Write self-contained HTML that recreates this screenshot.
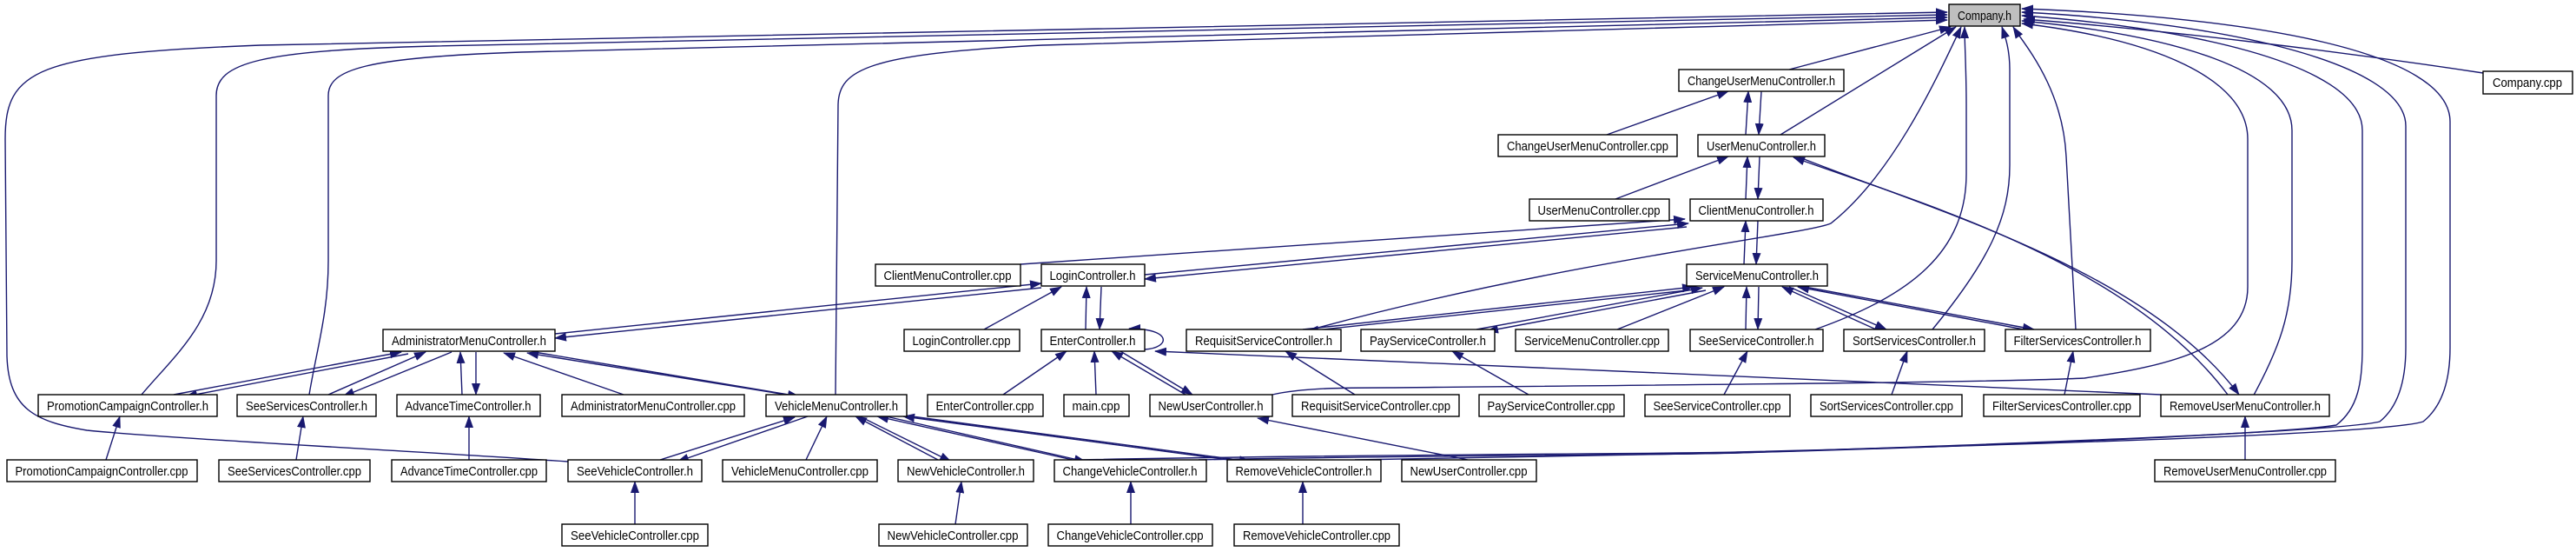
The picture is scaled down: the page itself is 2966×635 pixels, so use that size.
<!DOCTYPE html>
<html><head><meta charset="utf-8"><style>
html,body{margin:0;padding:0;background:#fff;}
svg{display:block;}
text{font-family:"Liberation Sans",sans-serif;font-size:15px;fill:#000;}
.n{fill:#fff;stroke:#000;stroke-width:1.4;}
.e{fill:none;stroke:#191970;stroke-width:1.4;}
</style></head><body>
<svg id="g" width="2966" height="635" viewBox="0 0 2966 635" xmlns="http://www.w3.org/2000/svg">
<defs><marker id="a" markerUnits="userSpaceOnUse" markerWidth="14" markerHeight="10" refX="13" refY="5" orient="auto"><path d="M0,0 L14,5 L0,10 z" fill="#191970"/></marker></defs>
<g id="edges"></g>
<g id="nodes">
<rect x="2244" y="5" width="82" height="25" fill="#bfbfbf" stroke="#000" stroke-width="1.4"/><text x="2285" y="23" text-anchor="middle" textLength="62" lengthAdjust="spacingAndGlyphs">Company.h</text>
<rect class="n" x="2859" y="82" width="103" height="26"/><text x="2910" y="100" text-anchor="middle" textLength="80" lengthAdjust="spacingAndGlyphs">Company.cpp</text>
<rect class="n" x="1933" y="80" width="190" height="25"/><text x="2028" y="98" text-anchor="middle" textLength="170" lengthAdjust="spacingAndGlyphs">ChangeUserMenuController.h</text>
<rect class="n" x="1725" y="155" width="206" height="25"/><text x="1828" y="173" text-anchor="middle" textLength="186" lengthAdjust="spacingAndGlyphs">ChangeUserMenuController.cpp</text>
<rect class="n" x="1955" y="155" width="146" height="25"/><text x="2028" y="173" text-anchor="middle" textLength="126" lengthAdjust="spacingAndGlyphs">UserMenuController.h</text>
<rect class="n" x="1761" y="229" width="161" height="25"/><text x="1841" y="247" text-anchor="middle" textLength="141" lengthAdjust="spacingAndGlyphs">UserMenuController.cpp</text>
<rect class="n" x="1946" y="229" width="153" height="25"/><text x="2022" y="247" text-anchor="middle" textLength="133" lengthAdjust="spacingAndGlyphs">ClientMenuController.h</text>
<rect class="n" x="1942" y="304" width="162" height="25"/><text x="2023" y="322" text-anchor="middle" textLength="142" lengthAdjust="spacingAndGlyphs">ServiceMenuController.h</text>
<rect class="n" x="1008" y="304" width="167" height="25"/><text x="1091" y="322" text-anchor="middle" textLength="147" lengthAdjust="spacingAndGlyphs">ClientMenuController.cpp</text>
<rect class="n" x="1199" y="304" width="119" height="25"/><text x="1258" y="322" text-anchor="middle" textLength="99" lengthAdjust="spacingAndGlyphs">LoginController.h</text>
<rect class="n" x="441" y="379" width="198" height="25"/><text x="540" y="397" text-anchor="middle" textLength="178" lengthAdjust="spacingAndGlyphs">AdministratorMenuController.h</text>
<rect class="n" x="1041" y="379" width="133" height="25"/><text x="1107" y="397" text-anchor="middle" textLength="113" lengthAdjust="spacingAndGlyphs">LoginController.cpp</text>
<rect class="n" x="1199" y="379" width="119" height="25"/><text x="1258" y="397" text-anchor="middle" textLength="99" lengthAdjust="spacingAndGlyphs">EnterController.h</text>
<rect class="n" x="1366" y="379" width="178" height="25"/><text x="1455" y="397" text-anchor="middle" textLength="158" lengthAdjust="spacingAndGlyphs">RequisitServiceController.h</text>
<rect class="n" x="1567" y="379" width="154" height="25"/><text x="1644" y="397" text-anchor="middle" textLength="134" lengthAdjust="spacingAndGlyphs">PayServiceController.h</text>
<rect class="n" x="1745" y="379" width="176" height="25"/><text x="1833" y="397" text-anchor="middle" textLength="156" lengthAdjust="spacingAndGlyphs">ServiceMenuController.cpp</text>
<rect class="n" x="1946" y="379" width="153" height="25"/><text x="2022" y="397" text-anchor="middle" textLength="133" lengthAdjust="spacingAndGlyphs">SeeServiceController.h</text>
<rect class="n" x="2123" y="379" width="162" height="25"/><text x="2204" y="397" text-anchor="middle" textLength="142" lengthAdjust="spacingAndGlyphs">SortServicesController.h</text>
<rect class="n" x="2309" y="379" width="167" height="25"/><text x="2392" y="397" text-anchor="middle" textLength="147" lengthAdjust="spacingAndGlyphs">FilterServicesController.h</text>
<rect class="n" x="44" y="454" width="206" height="25"/><text x="147" y="472" text-anchor="middle" textLength="186" lengthAdjust="spacingAndGlyphs">PromotionCampaignController.h</text>
<rect class="n" x="273" y="454" width="160" height="25"/><text x="353" y="472" text-anchor="middle" textLength="140" lengthAdjust="spacingAndGlyphs">SeeServicesController.h</text>
<rect class="n" x="457" y="454" width="165" height="25"/><text x="539" y="472" text-anchor="middle" textLength="145" lengthAdjust="spacingAndGlyphs">AdvanceTimeController.h</text>
<rect class="n" x="647" y="454" width="210" height="25"/><text x="752" y="472" text-anchor="middle" textLength="190" lengthAdjust="spacingAndGlyphs">AdministratorMenuController.cpp</text>
<rect class="n" x="882" y="454" width="162" height="25"/><text x="963" y="472" text-anchor="middle" textLength="142" lengthAdjust="spacingAndGlyphs">VehicleMenuController.h</text>
<rect class="n" x="1068" y="454" width="133" height="25"/><text x="1134" y="472" text-anchor="middle" textLength="113" lengthAdjust="spacingAndGlyphs">EnterController.cpp</text>
<rect class="n" x="1225" y="454" width="75" height="25"/><text x="1262" y="472" text-anchor="middle" textLength="55" lengthAdjust="spacingAndGlyphs">main.cpp</text>
<rect class="n" x="1324" y="454" width="141" height="25"/><text x="1394" y="472" text-anchor="middle" textLength="121" lengthAdjust="spacingAndGlyphs">NewUserController.h</text>
<rect class="n" x="1488" y="454" width="192" height="25"/><text x="1584" y="472" text-anchor="middle" textLength="172" lengthAdjust="spacingAndGlyphs">RequisitServiceController.cpp</text>
<rect class="n" x="1703" y="454" width="167" height="25"/><text x="1786" y="472" text-anchor="middle" textLength="147" lengthAdjust="spacingAndGlyphs">PayServiceController.cpp</text>
<rect class="n" x="1894" y="454" width="167" height="25"/><text x="1977" y="472" text-anchor="middle" textLength="147" lengthAdjust="spacingAndGlyphs">SeeServiceController.cpp</text>
<rect class="n" x="2085" y="454" width="174" height="25"/><text x="2172" y="472" text-anchor="middle" textLength="154" lengthAdjust="spacingAndGlyphs">SortServicesController.cpp</text>
<rect class="n" x="2284" y="454" width="180" height="25"/><text x="2374" y="472" text-anchor="middle" textLength="160" lengthAdjust="spacingAndGlyphs">FilterServicesController.cpp</text>
<rect class="n" x="2488" y="454" width="194" height="25"/><text x="2585" y="472" text-anchor="middle" textLength="174" lengthAdjust="spacingAndGlyphs">RemoveUserMenuController.h</text>
<rect class="n" x="8" y="529" width="219" height="25"/><text x="117" y="547" text-anchor="middle" textLength="199" lengthAdjust="spacingAndGlyphs">PromotionCampaignController.cpp</text>
<rect class="n" x="252" y="529" width="174" height="25"/><text x="339" y="547" text-anchor="middle" textLength="154" lengthAdjust="spacingAndGlyphs">SeeServicesController.cpp</text>
<rect class="n" x="451" y="529" width="178" height="25"/><text x="540" y="547" text-anchor="middle" textLength="158" lengthAdjust="spacingAndGlyphs">AdvanceTimeController.cpp</text>
<rect class="n" x="654" y="529" width="154" height="25"/><text x="731" y="547" text-anchor="middle" textLength="134" lengthAdjust="spacingAndGlyphs">SeeVehicleController.h</text>
<rect class="n" x="832" y="529" width="178" height="25"/><text x="921" y="547" text-anchor="middle" textLength="158" lengthAdjust="spacingAndGlyphs">VehicleMenuController.cpp</text>
<rect class="n" x="1034" y="529" width="156" height="25"/><text x="1112" y="547" text-anchor="middle" textLength="136" lengthAdjust="spacingAndGlyphs">NewVehicleController.h</text>
<rect class="n" x="1214" y="529" width="175" height="25"/><text x="1301" y="547" text-anchor="middle" textLength="155" lengthAdjust="spacingAndGlyphs">ChangeVehicleController.h</text>
<rect class="n" x="1413" y="529" width="177" height="25"/><text x="1501" y="547" text-anchor="middle" textLength="157" lengthAdjust="spacingAndGlyphs">RemoveVehicleController.h</text>
<rect class="n" x="1614" y="529" width="155" height="25"/><text x="1691" y="547" text-anchor="middle" textLength="135" lengthAdjust="spacingAndGlyphs">NewUserController.cpp</text>
<rect class="n" x="2481" y="529" width="208" height="25"/><text x="2585" y="547" text-anchor="middle" textLength="188" lengthAdjust="spacingAndGlyphs">RemoveUserMenuController.cpp</text>
<rect class="n" x="647" y="603" width="168" height="25"/><text x="731" y="621" text-anchor="middle" textLength="148" lengthAdjust="spacingAndGlyphs">SeeVehicleController.cpp</text>
<rect class="n" x="1012" y="603" width="171" height="25"/><text x="1097" y="621" text-anchor="middle" textLength="151" lengthAdjust="spacingAndGlyphs">NewVehicleController.cpp</text>
<rect class="n" x="1207" y="603" width="189" height="25"/><text x="1301" y="621" text-anchor="middle" textLength="169" lengthAdjust="spacingAndGlyphs">ChangeVehicleController.cpp</text>
<rect class="n" x="1421" y="603" width="190" height="25"/><text x="1516" y="621" text-anchor="middle" textLength="170" lengthAdjust="spacingAndGlyphs">RemoveVehicleController.cpp</text>
</g>
</svg>
<script>
var P=[
"M2859,84 C2700,60 2500,35 2330,22",
"M2060,80 L2246,31",
"M2050,155 L2252,31",
"M1510,379 C1800,300 2080,270 2108,257 C2180,200 2230,90 2258,31",
"M2090,379 C2200,340 2264,290 2264,200 L2264,120 C2264,80 2262,50 2262,31",
"M2225,379 C2290,300 2314,250 2314,190 L2314,80 C2314,55 2308,40 2305,31",
"M2390,379 L2379,180 C2375,100 2330,50 2318,31",
"M2592,460 C2625,400 2639,360 2639,300 L2639,150 C2639,80 2500,40 2328,24",
"M1465,454 C1500,446 1550,446 1600,446 C1900,443 2300,440 2400,435 C2500,420 2588,400 2588,330 L2588,160 C2588,90 2480,45 2328,27",
"M1380,529 C1600,524 1900,524 2000,521 C2400,510 2650,496 2690,489 C2715,470 2720,440 2720,400 L2720,150 C2720,70 2500,30 2328,18",
"M1560,529 C1800,524 1950,522 2000,521 C2400,508 2700,495 2740,485 C2765,465 2770,430 2770,400 L2770,145 C2770,70 2550,25 2328,14",
"M1240,529 C1600,522 1950,522 2000,520 C2400,510 2750,498 2790,485 C2815,465 2821,430 2821,400 L2821,140 C2821,60 2600,20 2328,10",
"M654,531 C500,520 200,505 100,495 C40,485 10,470 8,410 L6,160 C6,80 40,62 300,52 L2242,14",
"M163,454 C200,410 249,370 249,300 L249,110 C249,72 300,58 500,53 L2242,17",
"M356,454 C365,400 378,360 378,300 L378,110 C378,80 420,66 600,60 L2242,20",
"M962,454 L965,120 C966,80 1000,62 1200,52 L2242,23",
"M2010,155 L2013,105","M2028,105 L2025,155",
"M1850,155 L1990,105",
"M1860,229 L1990,180",
"M2010,229 L2012,180","M2026,180 L2024,229",
"M2008,304 L2010,254","M2024,254 L2022,304",
"M1175,304 L1940,252",
"M1318,316 L1944,257","M1942,261 L1318,321",
"M639,384 L1199,326","M1199,331 L639,389",
"M1133,379 L1222,330",
"M1250,379 L1251,330","M1268,330 L1266,379",
"M1318,402 C1348,400 1350,378 1300,378",
"M1155,454 L1228,404",
"M1262,454 L1260,404",
"M1365,454 L1280,404","M1290,404 L1373,454",
"M2488,454 C2000,430 1600,418 1330,404",
"M1690,529 L1448,481",
"M2565,454 C2450,300 2200,230 2065,181","M2072,181 C2220,240 2470,310 2578,454",
"M2585,529 L2585,479",
"M1500,379 L1950,330","M1952,333 L1505,381",
"M1700,379 L1960,331","M1964,334 L1712,381",
"M1862,379 L1985,330",
"M2010,379 L2011,330","M2025,330 L2024,379",
"M2160,379 L2052,330","M2060,330 L2172,379",
"M2330,379 L2070,330","M2078,330 L2342,379",
"M1560,454 L1480,404",
"M1760,454 L1672,404",
"M1985,454 L2012,404",
"M2178,454 L2196,404",
"M2377,454 L2387,404",
"M200,454 L462,405","M470,407 L214,456",
"M378,454 L490,405","M520,405 L395,456",
"M532,454 L530,405","M548,405 L548,454",
"M718,454 L580,406",
"M905,454 L607,406","M615,405 L920,456",
"M540,529 L540,479",
"M341,529 L349,479",
"M122,529 L138,479",
"M760,529 L915,480","M930,479 L780,531",
"M928,529 L952,479",
"M1080,529 L985,479","M990,479 L1095,531",
"M1235,529 L1010,479","M1020,479 L1250,531",
"M1415,529 L1040,479","M1050,479 L1440,531",
"M1100,603 L1107,554",
"M1302,603 L1302,554",
"M1500,603 L1500,554",
"M731,603 L731,554"
];
var g=document.getElementById("edges"),h="";
P.forEach(function(d){h+='<path class="e" d="'+d+'" marker-end="url(#a)"/>';});
g.innerHTML=h;
</script>
</body></html>
